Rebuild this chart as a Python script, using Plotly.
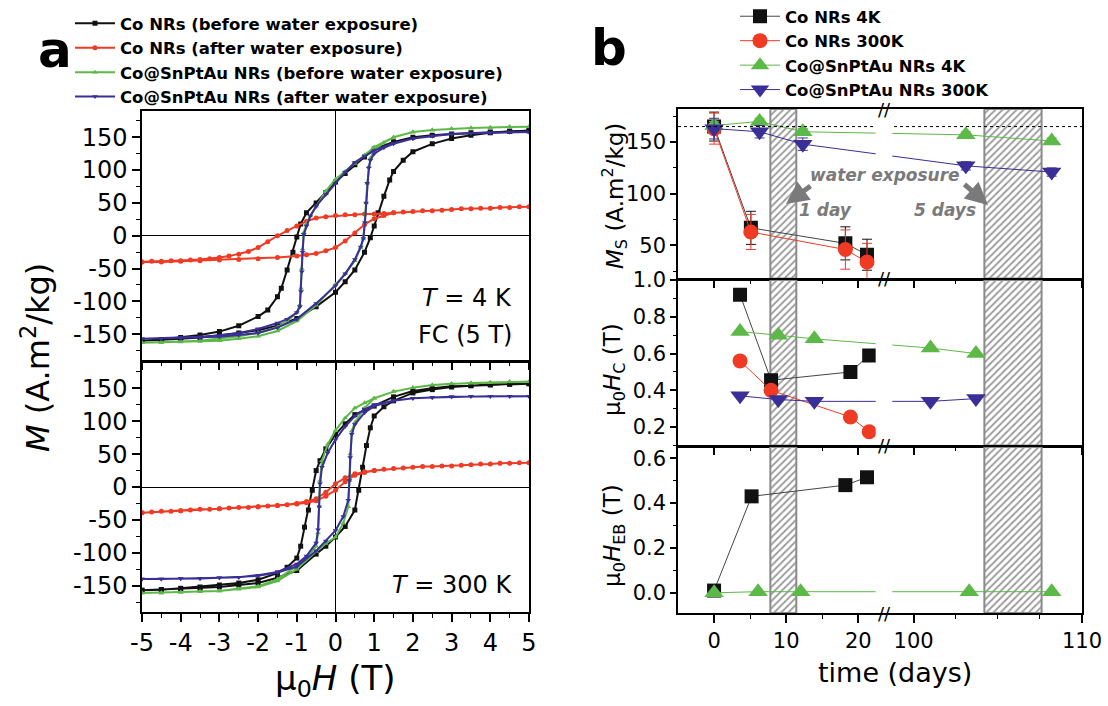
import plotly.graph_objects as go

# ---------------- Panel a data (M vs mu0H) ----------------
# T = 4 K
CO_4K_DN_H = [5, 4.5, 4, 3.5, 3, 2.5, 2, 1.5, 1, 0.75, 0.5, 0.25, 0, -0.25, -0.5, -0.75, -0.9, -1.0, -1.1, -1.25, -1.4, -1.5, -1.75, -2, -2.5, -3, -3.5, -4, -4.5, -5]
CO_4K_DN_M = [160, 159, 158, 157, 155, 153, 150, 143, 132, 120, 108, 95, 82, 66, 50, 35, 18, -2, -25, -52, -80, -93, -113, -123, -137, -146, -151, -155, -158, -160]
CO_4K_UP_H = [-5, -4.5, -4, -3.5, -3, -2.5, -2, -1.5, -1, -0.5, 0, 0.25, 0.5, 0.75, 0.9, 1.0, 1.1, 1.25, 1.4, 1.5, 1.75, 2, 2.5, 3, 3.5, 4, 4.5, 5]
CO_4K_UP_M = [-160, -159, -157, -155, -152, -148, -144, -137, -126, -108, -86, -70, -52, -25, -3, 15, 35, 60, 85, 98, 115, 128, 140, 148, 153, 157, 159, 160]

RED_4K_DN_H = [5, 4.75, 4.5, 4.25, 4, 3.75, 3.5, 3.25, 3, 2.75, 2.5, 2.25, 2, 1.75, 1.5, 1.25, 1, 0.75, 0.5, 0.25, 0, -0.25, -0.5, -0.75, -1, -1.25, -1.5, -1.75, -2, -2.25, -2.5, -2.75, -3, -3.25, -3.5, -3.75, -4, -4.25, -4.5, -4.75, -5]
RED_4K_DN_M = [44, 44, 43, 43, 42, 42, 41, 41, 40, 39, 38, 38, 37, 36, 35, 34, 33, 33, 32, 32, 31, 29, 27, 22, 15, 8, 0, -9, -18, -24, -28, -31, -33, -35, -36, -37, -38, -38, -39, -39, -40]
RED_4K_UP_H = [-5, -4.5, -4, -3.5, -3, -2.5, -2, -1.5, -1, -0.75, -0.5, -0.25, 0, 0.25, 0.5, 0.75, 1, 1.25, 1.5]
RED_4K_UP_M = [-40, -40, -39, -38, -37, -36, -35, -33, -31, -29, -27, -23, -18, -8, 4, 17, 26, 31, 35]

CS_4K_DN_H = [5, 4.5, 4, 3.5, 3, 2.5, 2, 1.5, 1, 0.75, 0.5, 0.25, 0, -0.25, -0.5, -0.65, -0.75, -0.82, -0.85, -0.87, -0.89, -0.92, -1.0, -1.25, -1.5, -2, -2.5, -3, -3.5, -4, -4.5, -5]
CS_4K_UP_H = [-5, -4.5, -4, -3.5, -3, -2.5, -2, -1.5, -1, -0.5, 0, 0.25, 0.5, 0.65, 0.72, 0.76, 0.79, 0.82, 0.86, 0.9, 1, 1.25, 1.5, 2, 2.5, 3, 3.5, 4, 4.5, 5]
GRN_4K_DN_M = [166, 166, 165, 164, 163, 161, 158, 150, 135, 123, 110, 98, 86, 68, 45, 30, 18, 5, -20, -50, -80, -105, -117, -130, -139, -148, -153, -157, -160, -161, -162, -163]
GRN_4K_UP_M = [-163, -163, -162, -161, -160, -157, -153, -145, -130, -106, -74, -58, -38, -18, -5, 20, 50, 80, 105, 118, 130, 142, 150, 158, 161, 163, 164, 165, 166, 166]
BLU_4K_DN_M = [158, 158, 157, 156, 155, 152, 148, 141, 130, 121, 112, 97, 80, 63, 45, 30, 15, 2, -25, -55, -85, -108, -117, -127, -133, -142, -148, -152, -154, -155, -156, -157]
BLU_4K_UP_M = [-157, -157, -156, -155, -154, -151, -148, -140, -127, -103, -76, -58, -36, -17, -4, 20, 50, 80, 103, 115, 125, 134, 140, 148, 152, 155, 156, 157, 158, 158]

# T = 300 K
CO_300_DN_H = [5, 4.5, 4, 3.5, 3, 2.5, 2, 1.5, 1, 0.75, 0.5, 0.25, 0, -0.25, -0.4, -0.5, -0.6, -0.7, -0.8, -0.9, -1, -1.25, -1.5, -2, -2.5, -3, -3.5, -4, -4.5, -5]
CO_300_DN_M = [157, 157, 156, 154, 153, 150, 146, 137, 123, 117, 110, 96, 80, 58, 40, 25, -5, -35, -61, -90, -108, -122, -131, -141, -146, -149, -152, -154, -156, -157]
CO_300_UP_H = [-5, -4.5, -4, -3.5, -3, -2.5, -2, -1.5, -1, -0.5, -0.25, 0, 0.25, 0.5, 0.6, 0.7, 0.8, 0.9, 1, 1.25, 1.5, 2, 2.5, 3, 3.5, 4, 4.5, 5]
CO_300_UP_M = [-157, -156, -155, -154, -152, -149, -146, -138, -127, -102, -90, -76, -60, -35, -5, 30, 63, 90, 108, 122, 131, 143, 148, 152, 154, 155, 156, 157]

RED_300_DN_H = [5, 4.75, 4.5, 4.25, 4, 3.75, 3.5, 3.25, 3, 2.75, 2.5, 2.25, 2, 1.75, 1.5, 1.25, 1, 0.75, 0.5, 0.25, 0, -0.25, -0.5, -0.75, -1, -1.25, -1.5, -1.75, -2, -2.25, -2.5, -2.75, -3, -3.25, -3.5, -3.75, -4, -4.25, -4.5, -4.75, -5]
RED_300_DN_M = [37, 37, 36, 36, 35, 35, 34, 33, 32, 32, 31, 31, 30, 29, 28, 27, 25, 23, 20, 14, 5, -8, -18, -22, -25, -27, -28, -29, -30, -31, -31, -32, -33, -34, -34, -35, -36, -37, -37, -38, -39]
RED_300_UP_H = [-5, -4, -3, -2, -1.5, -1, -0.75, -0.5, -0.25, 0, 0.25, 0.5, 0.75, 1]
RED_300_UP_M = [-39, -36, -33, -30, -28, -26, -24, -21, -14, -5, 8, 18, 22, 25]

CS_300_DN_H = [5, 4.5, 4, 3.5, 3, 2.5, 2, 1.5, 1, 0.75, 0.5, 0.25, 0, -0.2, -0.35, -0.4, -0.42, -0.45, -0.5, -0.75, -1, -1.5, -2, -2.5, -3, -3.5, -4, -4.5, -5]
CS_300_UP_H = [-5, -4.5, -4, -3.5, -3, -2.5, -2, -1.5, -1, -0.5, -0.25, 0, 0.2, 0.33, 0.36, 0.38, 0.42, 0.5, 0.75, 1, 1.5, 2, 2.5, 3, 3.5, 4, 4.5, 5]
GRN_300_DN_M = [160, 160, 159, 158, 157, 155, 151, 145, 135, 128, 120, 105, 86, 65, 40, 10, -30, -70, -90, -108, -120, -140, -151, -155, -158, -159, -160, -161, -161]
GRN_300_UP_M = [-161, -161, -160, -159, -158, -155, -152, -143, -125, -98, -86, -76, -55, -30, 10, 50, 85, 98, 120, 135, 145, 151, 155, 157, 158, 159, 160, 160]
BLU_300_DN_M = [138, 138, 138, 138, 137, 136, 135, 131, 125, 118, 108, 92, 72, 52, 30, 5, -30, -65, -85, -105, -117, -129, -134, -137, -138, -139, -139, -140, -140]
BLU_300_UP_M = [-140, -140, -139, -139, -138, -137, -135, -130, -121, -97, -82, -66, -45, -20, 10, 45, 80, 95, 113, 123, 131, 135, 136, 137, 138, 138, 138, 138]

LOOP_NAMES = ["Co NRs (before water exposure)", "Co NRs (after water exposure)",
              "Co@SnPtAu NRs (before water exposure)", "Co@SnPtAu NRs (after water exposure)"]
H_TICKS = [-5, -4, -3, -2, -1, 0, 1, 2, 3, 4, 5]
M_TICKS = [-150, -100, -50, 0, 50, 100, 150]

# ---------------- Panel b data (vs time) ----------------
DAYS_MS_CO = [0, 5.1, 18.2, 21.2]
MS_CO_4K = [165, 67, 52, 41]
MS_CO_4K_ERR = [14, 16, 16, 15]
MS_CO_300K = [163, 63, 46, 34]
MS_CO_300K_ERR = [15, 17, 19, 18]
DAYS_MS_CS = [0, 6.3, 12.3, 103.1, 108.2]
MS_CS_4K = [166, 170, 160, 157, 151]
MS_CS_4K_ERR = [4, 3, 3, 3, 3]
MS_CS_300K = [163, 160, 148, 127, 121]
MS_CS_300K_ERR = [10, 6, 6, 4, 4]
MS_BULK_REF = 165

DAYS_HC_CO = [3.6, 7.9, 18.9, 21.5]
HC_CO_4K = [0.92, 0.455, 0.50, 0.59]
HC_CO_300K = [0.56, 0.40, 0.255, 0.175]
DAYS_HC_CS = [3.6, 8.9, 13.9, 101.0, 103.7]
HC_CS_4K = [0.72, 0.70, 0.68, 0.63, 0.60]
HC_CS_300K = [0.37, 0.35, 0.34, 0.34, 0.355]

DAYS_EB_CO = [0, 5.2, 18.2, 21.2]
EB_CO_4K = [0.01, 0.43, 0.48, 0.515]
DAYS_EB_CS = [0, 6.1, 12.0, 103.3, 108.2]
EB_CS_4K = [0.0, 0.005, 0.005, 0.005, 0.005]

EXPOSURE_START = [7.8, 104.2]
EXPOSURE_END = [11.4, 107.6]

T_MAJOR = [0, 10, 20, 100, 110]
T_MAJOR_TEXT = ["0", "10", "20", "100", "110"]
T_MINOR = [5, 15, 102.5, 105, 107.5]
SERIES_B = ["Co NRs 4K", "Co NRs 300K", "Co@SnPtAu NRs 4K", "Co@SnPtAu NRs 300K"]

# broken time axis: [-5, 23] joined to [98, 110]
BREAK_LO, BREAK_HI, SCALE_HI = 23.0, 98.0, 28.0 / 12.0


def brk(t):
    return t if t <= BREAK_LO else BREAK_LO + (t - BREAK_HI) * SCALE_HI


def brks(ts):
    return [brk(t) for t in ts]


BLACK = "#111111"
RED = "#ef3b24"
GREEN = "#5cb947"
BLUE = "#3a2e97"
FONT = "DejaVu Sans"

fig = go.Figure()

# ---------------- Panel a traces ----------------
loops_4k = [(CO_4K_DN_H, CO_4K_DN_M, CO_4K_UP_H, CO_4K_UP_M, BLACK, "square"),
            (RED_4K_DN_H, RED_4K_DN_M, RED_4K_UP_H, RED_4K_UP_M, RED, "circle"),
            (CS_4K_DN_H, GRN_4K_DN_M, CS_4K_UP_H, GRN_4K_UP_M, GREEN, "triangle-up"),
            (CS_4K_DN_H, BLU_4K_DN_M, CS_4K_UP_H, BLU_4K_UP_M, BLUE, "triangle-down")]
loops_300 = [(CO_300_DN_H, CO_300_DN_M, CO_300_UP_H, CO_300_UP_M, BLACK, "square"),
             (RED_300_DN_H, RED_300_DN_M, RED_300_UP_H, RED_300_UP_M, RED, "circle"),
             (CS_300_DN_H, GRN_300_DN_M, CS_300_UP_H, GRN_300_UP_M, GREEN, "triangle-up"),
             (CS_300_DN_H, BLU_300_DN_M, CS_300_UP_H, BLU_300_UP_M, BLUE, "triangle-down")]

for loops, xa, ya, show in [(loops_4k, "x", "y", True), (loops_300, "x2", "y2", False)]:
    for (hd, md, hu, mu, col, sym), name in zip(loops, LOOP_NAMES):
        fig.add_trace(go.Scatter(
            x=hd + hu, y=md + mu, mode="lines+markers", name=name,
            line=dict(color=col, width=2), marker=dict(symbol=sym, size=5, color=col),
            xaxis=xa, yaxis=ya, showlegend=show, legend="legend", hoverinfo="skip"))

# ---------------- Panel b traces ----------------
ROW_RANGES = {"y3": (18, 182), "y4": (0.1, 1.0), "y5": (-0.09, 0.65)}
for xa, ya in [("x3", "y3"), ("x4", "y4"), ("x5", "y5")]:
    lo, hi = ROW_RANGES[ya]
    fig.add_trace(go.Bar(
        x=[(brk(s) + brk(e)) / 2 for s, e in zip(EXPOSURE_START, EXPOSURE_END)],
        width=[brk(e) - brk(s) for s, e in zip(EXPOSURE_START, EXPOSURE_END)],
        y=[hi - lo] * len(EXPOSURE_START), base=[lo] * len(EXPOSURE_START),
        marker=dict(color="white", line=dict(color="#8a8a8a", width=2),
                    pattern=dict(shape="/", fgcolor="#333333", bgcolor="white", size=5, solidity=0.35)),
        xaxis=xa, yaxis=ya, showlegend=False, hoverinfo="skip"))


def series(xs, ys, col, lcol, sym, size, name, xa, ya, show, err=None):
    kw = {}
    if err is not None:
        kw["error_y"] = dict(type="data", array=err, visible=True, color=col, thickness=1, width=5)
    fig.add_trace(go.Scatter(
        x=brks(xs), y=ys, mode="lines+markers", name=name,
        line=dict(color=lcol, width=1), marker=dict(symbol=sym, size=size, color=col),
        xaxis=xa, yaxis=ya, showlegend=show, legend="legend2", hoverinfo="skip", **kw))


series(DAYS_MS_CO, MS_CO_4K, BLACK, "#444444", "square", 14, SERIES_B[0], "x3", "y3", True, MS_CO_4K_ERR)
series(DAYS_MS_CO, MS_CO_300K, RED, RED, "circle", 15, SERIES_B[1], "x3", "y3", True, MS_CO_300K_ERR)
series(DAYS_MS_CS, MS_CS_4K, GREEN, GREEN, "triangle-up", 17, SERIES_B[2], "x3", "y3", True, MS_CS_4K_ERR)
series(DAYS_MS_CS, MS_CS_300K, BLUE, BLUE, "triangle-down", 17, SERIES_B[3], "x3", "y3", True, MS_CS_300K_ERR)

series(DAYS_HC_CO, HC_CO_4K, BLACK, "#444444", "square", 14, SERIES_B[0], "x4", "y4", False)
series(DAYS_HC_CO, HC_CO_300K, RED, RED, "circle", 15, SERIES_B[1], "x4", "y4", False)
series(DAYS_HC_CS, HC_CS_4K, GREEN, GREEN, "triangle-up", 17, SERIES_B[2], "x4", "y4", False)
series(DAYS_HC_CS, HC_CS_300K, BLUE, BLUE, "triangle-down", 17, SERIES_B[3], "x4", "y4", False)

series(DAYS_EB_CO, EB_CO_4K, BLACK, "#444444", "square", 14, SERIES_B[0], "x5", "y5", False)
series(DAYS_EB_CS, EB_CS_4K, GREEN, GREEN, "triangle-up", 17, SERIES_B[2], "x5", "y5", False)

# ---------------- Axes ----------------
W, H = 1108, 706


def px_x(p):
    return p / W


def px_y(p):
    return 1 - p / H


LW = 1.5


def axis(**kw):
    d = dict(showline=True, linecolor="black", linewidth=LW, mirror=True, automargin=False,
             ticks="outside", ticklen=8, tickwidth=1.5, tickcolor="black",
             showgrid=False, zeroline=False,
             tickfont=dict(family=FONT, size=24, color="black"))
    d.update(kw)
    return d


def inner_axis(**kw):
    d = dict(showline=False, automargin=False, ticks="inside", ticklen=7, tickwidth=1.5,
             tickcolor="black", showgrid=False, zeroline=False, showticklabels=False)
    d.update(kw)
    return d


LX = [px_x(142), px_x(529)]
RX = [px_x(678), px_x(1082)]
minor_h = dict(ticks="outside", ticklen=4, tickwidth=1.2, tickcolor="black", dtick=0.5)
minor_m = dict(ticks="outside", ticklen=4, tickwidth=1.2, tickcolor="black", dtick=25)
minor_h_in = dict(ticks="inside", ticklen=4, tickwidth=1.2, tickcolor="black", dtick=0.5)
minor_m_in = dict(ticks="inside", ticklen=4, tickwidth=1.2, tickcolor="black", dtick=25)

lay = dict(
    xaxis=axis(domain=LX, anchor="y", range=[-5, 5], tickvals=H_TICKS, showticklabels=False,
               zeroline=True, zerolinecolor="black", zerolinewidth=1.2, minor=minor_h),
    yaxis=axis(domain=[px_y(360.5), px_y(111)], anchor="x", range=[-190, 190], tickvals=M_TICKS,
               ticktext=[str(v) for v in M_TICKS], zeroline=True, zerolinecolor="black",
               zerolinewidth=1.2, minor=minor_m),
    xaxis2=axis(domain=LX, anchor="y2", range=[-5, 5], tickvals=H_TICKS,
                ticktext=[str(v) for v in H_TICKS], zeroline=True, zerolinecolor="black",
                zerolinewidth=1.2, minor=minor_h),
    yaxis2=axis(domain=[px_y(612), px_y(362)], anchor="x2", range=[-190, 190], tickvals=M_TICKS,
                ticktext=[str(v) for v in M_TICKS], zeroline=True, zerolinecolor="black",
                zerolinewidth=1.2, minor=minor_m),
    # inward ticks on the mirrored sides
    xaxis6=inner_axis(overlaying="x", side="top", anchor="y", range=[-5, 5], tickvals=H_TICKS, minor=minor_h_in),
    yaxis6=inner_axis(overlaying="y", side="right", anchor="x", range=[-190, 190], tickvals=M_TICKS, minor=minor_m_in),
    yaxis7=inner_axis(overlaying="y2", side="right", anchor="x2", range=[-190, 190], tickvals=M_TICKS, minor=minor_m_in),
)

minor_t = dict(ticks="outside", ticklen=4, tickwidth=1.2, tickcolor="black", tickvals=brks(T_MINOR))
minor_t_in = dict(ticks="inside", ticklen=4, tickwidth=1.2, tickcolor="black", tickvals=brks(T_MINOR))
rows = [("3", px_y(278.5), px_y(109), (18, 182), [50, 100, 150], ["50", "100", "150"], [25, 75, 125, 175], "8"),
        ("4", px_y(445.5), px_y(280), (0.1, 1.0), [0.2, 0.4, 0.6, 0.8, 1.0], ["0.2", "0.4", "0.6", "0.8", "1.0"], [0.1, 0.3, 0.5, 0.7, 0.9], "9"),
        ("5", px_y(613), px_y(447), (-0.09, 0.65), [0.0, 0.2, 0.4, 0.6], ["0.0", "0.2", "0.4", "0.6"], [-0.1, 0.1, 0.3, 0.5], "10")]
for k, y0, y1, rng, tv, tt, mv, kin in rows:
    lay["xaxis" + k] = axis(domain=RX, anchor="y" + k, range=[-5, brk(110)], tickvals=brks(T_MAJOR),
                            ticktext=T_MAJOR_TEXT, showticklabels=(k == "5"), minor=minor_t,
                            tickfont=dict(family=FONT, size=21, color="black"))
    lay["yaxis" + k] = axis(domain=[y0, y1], anchor="x" + k, range=list(rng), tickvals=tv, ticktext=tt,
                            ticklen=6,
                            minor=dict(ticks="outside", ticklen=3, tickwidth=1.2, tickcolor="black", tickvals=mv),
                            tickfont=dict(family=FONT, size=21, color="black"))
    lay["yaxis" + kin] = inner_axis(overlaying="y" + k, side="right", anchor="x" + k, range=list(rng),
                                    tickvals=tv, ticklen=6,
                                    minor=dict(ticks="inside", ticklen=3, tickwidth=1.2, tickcolor="black", tickvals=mv))
lay["xaxis7"] = inner_axis(overlaying="x3", side="top", anchor="y3", range=[-5, brk(110)], tickvals=brks(T_MAJOR),
                           ticklen=6, minor=minor_t_in)

fig.update_layout(**lay)

# ---------------- Shapes ----------------
shapes = [dict(type="line", xref="x3 domain", x0=0, x1=1, yref="y3", y0=MS_BULK_REF, y1=MS_BULK_REF,
               line=dict(color="black", width=1, dash="dot"), layer="above")]
for k in ["3", "4", "5"]:
    shapes.append(dict(type="rect", xref="x" + k, x0=22.4, x1=24.7, yref="y" + k + " domain",
                       y0=0.01, y1=0.99, fillcolor="white", line=dict(width=0), layer="above"))
fig.update_layout(shapes=shapes)

# ---------------- Annotations ----------------
ann = []


def txt(x, y, text, size, xanchor="center", yanchor="middle", angle=0, color="black", **kw):
    ann.append(dict(x=x, y=y, xref="paper", yref="paper", text=text, showarrow=False,
                    xanchor=xanchor, yanchor=yanchor, textangle=angle,
                    font=dict(family=FONT, size=size, color=color), **kw))


txt(px_x(55), px_y(50), "<b>a</b>", 50)
txt(px_x(609), px_y(48), "<b>b</b>", 50)
txt(px_x(36), px_y(358), "<i>M</i> (A.m<sup>2</sup>/kg)", 32, angle=-90)
txt(px_x(335), px_y(680), "μ<sub>0</sub><i>H</i> (T)", 34)
txt(px_x(895), px_y(672), "time (days)", 27)
txt(px_x(614), px_y(196), "<i>M</i><sub>S</sub> (A.m<sup>2</sup>/kg)", 23, angle=-90)
txt(px_x(614), px_y(370), "μ<sub>0</sub><i>H</i><sub>C</sub> (T)", 23, angle=-90)
txt(px_x(614), px_y(536), "μ<sub>0</sub><i>H</i><sub>EB</sub> (T)", 23, angle=-90)
txt(px_x(514), px_y(298), "<i>T</i> = 4 K", 24, xanchor="right")
txt(px_x(514), px_y(335), "FC (5 T)", 24, xanchor="right")
txt(px_x(514), px_y(585), "<i>T</i> = 300 K", 24, xanchor="right")
txt(px_x(885), px_y(175), "<b><i>water exposure</i></b>", 17, color="#7a7a7a")
txt(px_x(825), px_y(210), "<b><i>1 day</i></b>", 17, color="#7a7a7a")
txt(px_x(945), px_y(210), "<b><i>5 days</i></b>", 17, color="#7a7a7a")

for hx, hy, ax_, ay_ in [(786, 204, 26, -19), (988, 205, -25, -22)]:
    ann.append(dict(x=px_x(hx), y=px_y(hy), xref="paper", yref="paper", showarrow=True, text="",
                    ax=ax_, ay=ay_, arrowhead=2, arrowsize=0.9, arrowwidth=5, arrowcolor="#7a7a7a"))

for k, ypos in [("3", 1), ("3", 0), ("4", 0), ("5", 0)]:
    ann.append(dict(x=23.6, y=ypos, xref="x" + k, yref="y" + k + " domain", text="//", showarrow=False,
                    font=dict(family=FONT, size=18, color="black"), xanchor="center", yanchor="middle"))

fig.update_layout(annotations=ann)

fig.update_layout(
    width=W, height=H, margin=dict(l=0, r=0, t=0, b=0, autoexpand=False),
    plot_bgcolor="white", paper_bgcolor="white",
    font=dict(family=FONT, color="black"),
    barmode="overlay",
    legend=dict(x=px_x(70), y=px_y(6), xanchor="left", yanchor="top", bgcolor="rgba(0,0,0,0)",
                font=dict(family=FONT, size=16.5, color="black", weight="bold"),
                itemwidth=40, tracegroupgap=0),
    legend2=dict(x=px_x(735), y=px_y(-1), xanchor="left", yanchor="top", bgcolor="rgba(0,0,0,0)",
                 font=dict(family=FONT, size=16.5, color="black", weight="bold"),
                 itemwidth=40, tracegroupgap=0),
)

fig.write_html("out.html")
